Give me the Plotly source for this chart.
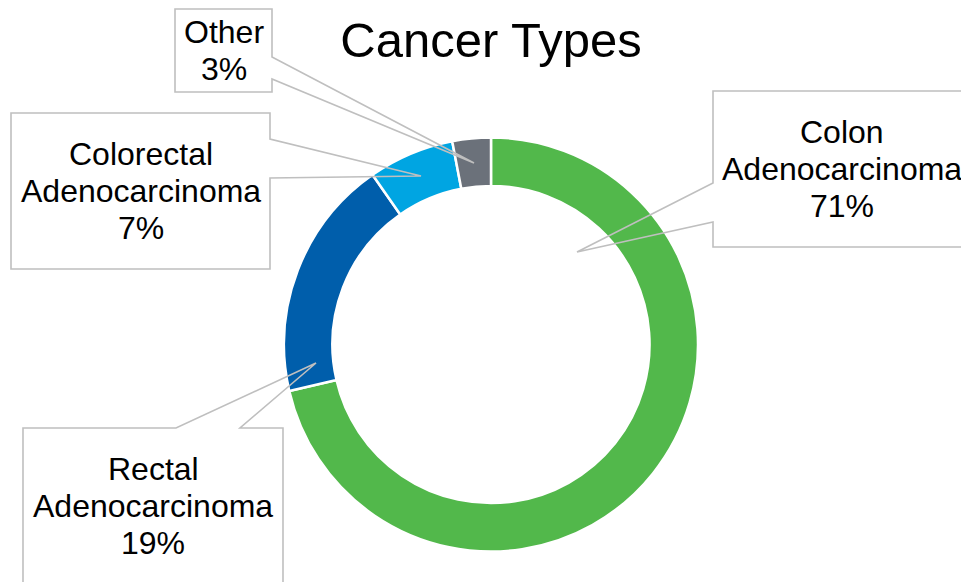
import plotly.graph_objects as go

# slice data (clockwise from 12 o'clock)
labels = ["Colon Adenocarcinoma", "Rectal Adenocarcinoma", "Colorectal Adenocarcinoma", "Other"]
values = [71.4, 18.9, 6.7, 3.0]
slice_colors = ["#52B84B", "#005EAB", "#00A5E2", "#6B717A"]

W, H = 961, 582
FONT = "Liberation Sans, Arial, sans-serif"


def px(x, y):
    """pixel position -> paper fraction"""
    return x / W, 1 - y / H


# callout boxes in pixels: (left, top, right, bottom, wedge_a, wedge_b, tip)
callouts = {
    "Colon Adenocarcinoma": (713, 91, 971, 247, (713, 183), (713, 222), (577, 252)),
    "Rectal Adenocarcinoma": (23, 428, 283, 584, (176, 428), (240, 428), (316, 363)),
    "Colorectal Adenocarcinoma": (11, 113, 270, 269, (270, 139), (270, 178), (421, 176)),
    "Other": (175, 9, 272, 92, (272, 57), (272, 79), (474, 163)),
}

fig = go.Figure(
    go.Pie(
        labels=labels,
        values=values,
        hole=0.766,
        sort=False,
        direction="clockwise",
        rotation=0,
        marker=dict(colors=slice_colors, line=dict(color="white", width=2.5)),
        textinfo="none",
        hoverinfo="label+percent",
        domain=dict(x=[284 / W, 698 / W], y=[1 - 552 / H, 1 - 137 / H]),
    )
)

total = sum(values)
shapes = []
annotations = []
for label, value in zip(labels, values):
    left, top, right, bottom, wa, wb, tip = callouts[label]
    x0, y0 = px(left, top)
    x1, y1 = px(right, bottom)
    shapes.append(dict(type="rect", xref="paper", yref="paper", x0=x0, y0=y1, x1=x1, y1=y0,
                       fillcolor="white", line=dict(width=0), layer="above"))

    # box outline opened up for the pointer wedge
    if wa[0] == left:
        corners = [(left, top), (right, top), (right, bottom), (left, bottom)]
    elif wa[0] == right:
        corners = [(right, top), (left, top), (left, bottom), (right, bottom)]
    else:
        corners = [(left, top), (left, bottom), (right, bottom), (right, top)]
    pts = [wa] + corners + [wb, tip]
    path = "M " + " L ".join("{:.5f},{:.5f}".format(*px(*p)) for p in pts) + " Z"
    shapes.append(dict(type="path", xref="paper", yref="paper", path=path,
                       fillcolor="rgba(0,0,0,0)", line=dict(color="#BFBFBF", width=1.6),
                       layer="above"))

    lines = label.split(" ") + ["{:.0f}%".format(value / total * 100)]
    cx = (left + right) / 2
    cy = (top + bottom) / 2
    step = 36.7
    for i, line in enumerate(lines):
        ly = cy + (i - (len(lines) - 1) / 2) * step
        ax, ay = px(cx, ly)
        annotations.append(dict(text=line, x=ax, y=ay, xref="paper", yref="paper",
                                xanchor="center", yanchor="middle", showarrow=False,
                                font=dict(family=FONT, size=32, color="black")))

fig.update_layout(
    width=W,
    height=H,
    margin=dict(l=0, r=0, t=0, b=0),
    paper_bgcolor="white",
    plot_bgcolor="white",
    showlegend=False,
    title=dict(text="Cancer Types", x=491 / W, y=1 - 40 / H, xanchor="center", yanchor="middle",
               font=dict(family=FONT, size=49, color="black")),
    shapes=shapes,
    annotations=annotations,
)

# drop the browser's default body margin so the figure sits at the page corner
fig.write_html(
    "out.html",
    config={"displayModeBar": False},
    post_script="document.body.style.margin='0px';",
)
